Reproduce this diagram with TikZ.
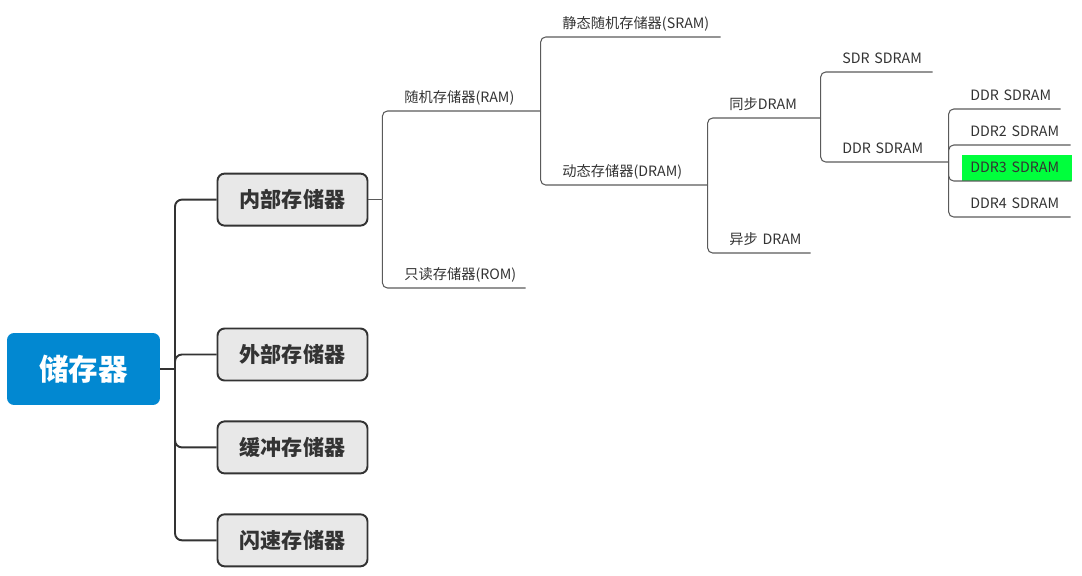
\documentclass[tikz,border=0pt]{standalone}
\usepackage{fontspec}
\setmainfont{Noto Sans CJK SC}
\usetikzlibrary{positioning,backgrounds}
\definecolor{rootblue}{HTML}{0288D1}
\definecolor{boxgrey}{HTML}{E8E8E8}
\definecolor{darkline}{HTML}{333333}
\definecolor{thinline}{HTML}{5A5A5A}
\definecolor{hlgreen}{HTML}{00FF3C}
\tikzset{
  rootbox/.style={rectangle,rounded corners=4pt,fill=rootblue,text=white,minimum width=3.06cm,minimum height=1.44cm,font=\fontsize{16.8}{18}\selectfont\bfseries},
  mainbox/.style={rectangle,rounded corners=4pt,draw=darkline,line width=1.1pt,fill=boxgrey,text=darkline,minimum width=3.0cm,minimum height=1.04cm,font=\fontsize{12}{14}\selectfont\bfseries},
  leaf/.style={anchor=south west,inner xsep=0pt,inner ysep=0.1cm,text depth=0.06cm,align=left,text=darkline,font=\fontsize{8.1}{10}\selectfont,execute at begin node={\hspace*{0.44cm}}},
  trunk/.style={draw=darkline,line width=1.1pt,rounded corners=0.14cm},
  branch/.style={draw=thinline,line width=0.6pt,rounded corners=0.1cm}
}

\begin{document}
\begin{tikzpicture}[x=0.02cm,y=-0.02cm]
  \useasboundingbox (0,0) rectangle (1082,575);

  \node[rootbox] (root) at (83.5,369) {储存器};
  \node[mainbox] (outer) at (292.5,354.5) {外部存储器};
  \node[mainbox, above=2.02cm of outer] (inner) {内部存储器};
  \node[mainbox, below=0.78cm of outer] (cache) {缓冲存储器};
  \node[mainbox, below=0.78cm of cache] (flash) {闪速存储器};

  \node[leaf, text width=3.16cm] (ram) at (382,111) {随机存储器(RAM)};
  \node[leaf, text width=2.86cm] (rom) at (382,288) {只读存储器(ROM)};
  \node[leaf, text width=3.60cm] (sram) at (540,37) {静态随机存储器(SRAM)};
  \node[leaf, text width=3.34cm] (dram) at (540,185) {动态存储器(DRAM)};
  \node[leaf, text width=2.26cm] (sync) at (707,118) {同步DRAM};
  \node[leaf, text width=2.06cm] (async) at (707,253) {异步 DRAM};
  \node[leaf, text width=2.24cm] (sdr) at (820,72) {SDR SDRAM};
  \node[leaf, text width=2.56cm] (ddr) at (820,162) {DDR SDRAM};
  \node[leaf, text width=2.24cm] (ddrone) at (948,109) {DDR SDRAM};
  \node[leaf, text width=2.44cm] (ddrtwo) at (948,145) {DDR2 SDRAM};
  \node[leaf, text width=2.46cm] (ddrthree) at (948,181) {DDR3 SDRAM};
  \node[leaf, text width=2.44cm] (ddrfour) at (948,217) {DDR4 SDRAM};

  \begin{scope}[on background layer]
    \fill[hlgreen] ([xshift=0.28cm]ddrthree.south west) rectangle ([yshift=0.52cm]ddrthree.south east);
  \end{scope}

  % root to the four kinds
  \coordinate (j0) at (175,369);
  \draw[trunk] (root.east) -- (j0);
  \foreach \b in {inner,outer,cache,flash}
    \draw[trunk] (j0) |- (\b.west);

  % inner memory tree
  \coordinate (j1) at ([xshift=0.28cm]inner.east);
  \draw[branch] (inner.east) -- (j1);
  \foreach \b in {ram,rom}
    \draw[branch] (j1) |- (\b.south east);
  \foreach \b in {sram,dram}
    \draw[branch] (ram.south east) |- (\b.south east);
  \foreach \b in {sync,async}
    \draw[branch] (dram.south east) |- (\b.south east);
  \foreach \b in {sdr,ddr}
    \draw[branch] (sync.south east) |- (\b.south east);
  \foreach \b in {ddrone,ddrtwo,ddrthree,ddrfour}
    \draw[branch] (ddr.south east) |- (\b.south east);
\end{tikzpicture}
\end{document}
